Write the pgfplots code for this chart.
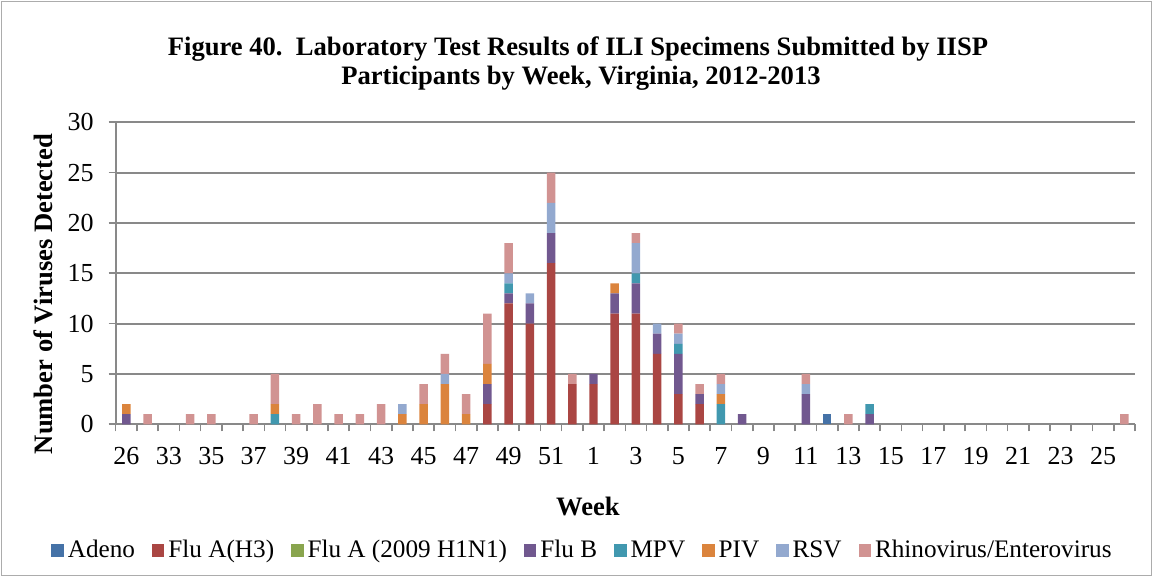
\documentclass[border=0pt]{standalone}
\usepackage{pgfplots}
\pgfplotsset{compat=1.18}
\usepackage{pgfplotstable}
\usepackage{fontspec}
\setmainfont{Liberation Serif}
\definecolor{cAdeno}{HTML}{4572A7}
\definecolor{cFluA}{HTML}{AA4643}
\definecolor{cHone}{HTML}{89A54E}
\definecolor{cFluB}{HTML}{71588F}
\definecolor{cMPV}{HTML}{4198AF}
\definecolor{cPIV}{HTML}{DB843D}
\definecolor{cRSV}{HTML}{93A9CF}
\definecolor{cRhino}{HTML}{D19392}
\definecolor{gridgray}{HTML}{898989}
\pgfplotstableread{
idx Adeno FluA H1N1 FluB MPV PIV RSV Rhino
0  0 0  0 1 0 1 0 0
1  0 0  0 0 0 0 0 1
2  0 0  0 0 0 0 0 0
3  0 0  0 0 0 0 0 1
4  0 0  0 0 0 0 0 1
5  0 0  0 0 0 0 0 0
6  0 0  0 0 0 0 0 1
7  0 0  0 0 1 1 0 3
8  0 0  0 0 0 0 0 1
9  0 0  0 0 0 0 0 2
10 0 0  0 0 0 0 0 1
11 0 0  0 0 0 0 0 1
12 0 0  0 0 0 0 0 2
13 0 0  0 0 0 1 1 0
14 0 0  0 0 0 2 0 2
15 0 0  0 0 0 4 1 2
16 0 0  0 0 0 1 0 2
17 0 2  0 2 0 2 0 5
18 0 12 0 1 1 0 1 3
19 0 10 0 2 0 0 1 0
20 0 16 0 3 0 0 3 3
21 0 4  0 0 0 0 0 1
22 0 4  0 1 0 0 0 0
23 0 11 0 2 0 1 0 0
24 0 11 0 3 1 0 3 1
25 0 7  0 2 0 0 1 0
26 0 3  0 4 1 0 1 1
27 0 2  0 1 0 0 0 1
28 0 0  0 0 2 1 1 1
29 0 0  0 1 0 0 0 0
30 0 0  0 0 0 0 0 0
31 0 0  0 0 0 0 0 0
32 0 0  0 3 0 0 1 1
33 1 0  0 0 0 0 0 0
34 0 0  0 0 0 0 0 1
35 0 0  0 1 1 0 0 0
36 0 0  0 0 0 0 0 0
37 0 0  0 0 0 0 0 0
38 0 0  0 0 0 0 0 0
39 0 0  0 0 0 0 0 0
40 0 0  0 0 0 0 0 0
41 0 0  0 0 0 0 0 0
42 0 0  0 0 0 0 0 0
43 0 0  0 0 0 0 0 0
44 0 0  0 0 0 0 0 0
45 0 0  0 0 0 0 0 0
46 0 0  0 0 0 0 0 0
47 0 0  0 0 0 0 0 1
}\datatable
\begin{document}
\begin{tikzpicture}
\path[use as bounding box] (0,0) rectangle (576.5pt,288.5pt);
\draw[color=gridgray!70, line width=0.6pt] (0.6pt,0.6pt) rectangle (575.9pt,287.9pt);
\begin{axis}[
  at={(57.85pt,76.35pt)}, anchor=south west,
  scale only axis, width=509.65pt, height=151pt,
  ybar stacked, bar width=0.4,
  xmin=-0.5, xmax=47.5, ymin=0, ymax=30,
  ytick={0,5,...,30},
  xtick={-0.5,0.5,...,47.5},
  x tick label as interval=true,
  xticklabels={26,,33,,35,,37,,39,,41,,43,,45,,47,,49,,51,,1,,3,,5,,7,,9,,11,,13,,15,,17,,19,,21,,23,,25,},
  axis x line*=bottom, axis y line*=left,
  axis line style={color=gridgray, line width=1pt},
  tick align=outside, major tick length=3.5pt,
  tick style={color=gridgray, line width=0.8pt},
  ymajorgrids, major grid style={color=gridgray, line width=1pt},
  tick label style={font=\fontsize{13}{15}\selectfont, text=black},
  /pgf/number format/assume math mode=true,
  yticklabel style={xshift=-4pt},
  xticklabel style={yshift=-4.5pt},
  legend columns=8,
  legend style={at={(0.459,-0.418)}, anchor=center, draw=none, fill=none,
    font=\fontsize{12.6}{15}\selectfont,
    /tikz/every even column/.append style={column sep=6.5pt}},
  legend image code/.code={\fill[#1] (0pt,-3.1pt) rectangle (6.2pt,3.1pt);},
]
\addplot[fill=cAdeno, draw=none] table[x=idx,y=Adeno]{\datatable};
\addplot[fill=cFluA, draw=none] table[x=idx,y=FluA]{\datatable};
\addplot[fill=cHone, draw=none] table[x=idx,y=H1N1]{\datatable};
\addplot[fill=cFluB, draw=none] table[x=idx,y=FluB]{\datatable};
\addplot[fill=cMPV, draw=none] table[x=idx,y=MPV]{\datatable};
\addplot[fill=cPIV, draw=none] table[x=idx,y=PIV]{\datatable};
\addplot[fill=cRSV, draw=none] table[x=idx,y=RSV]{\datatable};
\addplot[fill=cRhino, draw=none] table[x=idx,y=Rhino]{\datatable};
\legend{Adeno,Flu A(H3),Flu A (2009 H1N1),Flu B,MPV,PIV,RSV,Rhinovirus/Enterovirus}
\end{axis}
\node[font=\bfseries\fontsize{13.3}{16}\selectfont, anchor=base] at (289pt,260.75pt) {Figure 40.\ \ Laboratory Test Results of ILI Specimens Submitted by IISP};
\node[font=\bfseries\fontsize{13.3}{16}\selectfont, anchor=base] at (290.5pt,246pt) {Participants by Week, Virginia, 2012-2013};
\node[font=\bfseries\fontsize{13.3}{16}\selectfont, rotate=90, anchor=base] at (26.5pt,141.5pt) {Number of Viruses Detected};
\node[font=\bfseries\fontsize{13.3}{16}\selectfont, anchor=base] at (294pt,30.5pt) {Week};
\end{tikzpicture}
\end{document}
